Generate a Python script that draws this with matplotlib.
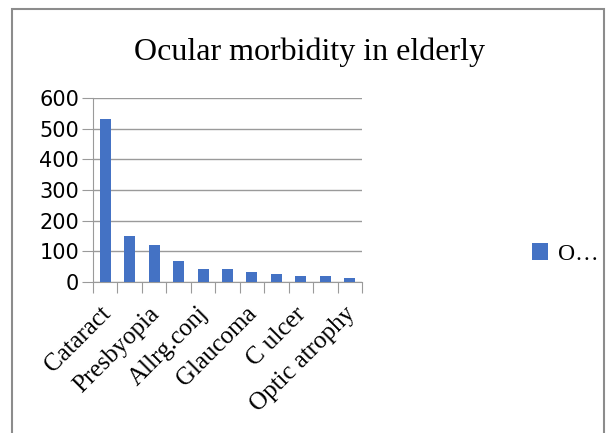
import numpy as np
import matplotlib
matplotlib.use('Agg')
import matplotlib.pyplot as plt
from matplotlib.patches import Rectangle
from matplotlib.transforms import ScaledTranslation

# data
categories = ['Cataract', '', 'Presbyopia', '', 'Allrg.conj', '', 'Glaucoma', '', 'C ulcer', '', 'Optic atrophy']
values = [531, 150, 121, 68, 42, 42, 32, 25, 19, 19, 13]
y_ticks = [0, 100, 200, 300, 400, 500, 600]

bar_color = '#4472C4'
grid_color = '#9a9a9a'

fig = plt.figure(figsize=(6.10, 4.33), dpi=100)
fig.patches.append(Rectangle((11.5 / 610, -0.1), (603.5 - 11.5) / 610, 1.1 - 9.5 / 433,
                             transform=fig.transFigure, fill=False,
                             edgecolor='#8c8c8c', linewidth=1.5))

ax = fig.add_axes([93 / 610, (433 - 282) / 433, (362 - 93) / 610, (282 - 98) / 433])
x = np.arange(len(values))
bars = ax.bar(x, values, width=0.45, color=bar_color, zorder=3, label='O…')

ax.set_xlim(-0.5, len(values) - 0.5)
ax.set_ylim(0, 600)
ax.set_yticks(y_ticks)
ax.set_yticklabels([str(v) for v in y_ticks], family='DejaVu Sans', fontsize=15)
ax.yaxis.grid(True, color=grid_color, linewidth=1, zorder=0)
ax.tick_params(axis='y', length=8, color=grid_color, pad=2)

# tick marks between categories, labels at category centers
ax.set_xticks(np.arange(-0.5, len(values), 1.0))
ax.set_xticklabels([])
ax.tick_params(axis='x', which='major', length=8, color=grid_color)
ax.set_xticks(x, minor=True)
ax.set_xticklabels(categories, minor=True, rotation=45, ha='right', va='top',
                   rotation_mode='anchor', family='Liberation Serif', fontsize=18)
ax.tick_params(axis='x', which='minor', length=0, pad=15)
shift = ScaledTranslation(-6 / 100, 0, fig.dpi_scale_trans)
for lab in ax.get_xticklabels(minor=True):
    lab.set_transform(lab.get_transform() + shift)

for s in ['top', 'right']:
    ax.spines[s].set_visible(False)
ax.spines['left'].set_color(grid_color)
ax.spines['bottom'].set_color(grid_color)

fig.text(309 / 610, 1 - 52 / 433, 'Ocular morbidity in elderly',
         family='Liberation Serif', fontsize=23, ha='center', va='center')

fig.legend(handles=[bars], labels=['O…'], loc='center left',
           bbox_to_anchor=(515 / 610, 1 - 254 / 433), frameon=False,
           prop={'family': 'Liberation Serif', 'size': 17},
           handlelength=0.68, handleheight=0.68, handletextpad=0.45, borderpad=0.2)

fig.savefig('out.png', dpi=100)
